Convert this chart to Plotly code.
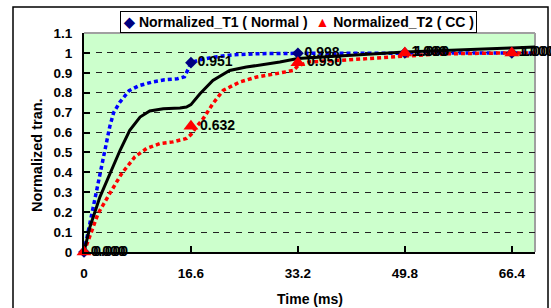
import plotly.graph_objects as go

# Marker series (sample points)
time_points = [0, 16.6, 33.2, 49.8, 66.4]
t1_values = [0.000, 0.951, 0.998, 1.000, 1.000]
t2_values = [0.000, 0.632, 0.950, 1.000, 1.000]
tick_labels = ["0", "16.6", "33.2", "49.8", "66.4"]
y_ticks = [0, 0.1, 0.2, 0.3, 0.4, 0.5, 0.6, 0.7, 0.8, 0.9, 1.0, 1.1]
y_tick_labels = ["0", "0.1", "0.2", "0.3", "0.4", "0.5", "0.6", "0.7", "0.8", "0.9", "1", "1.1"]

# Continuous traces
blue_t = [0, 1.0, 2.0, 3.0, 4.0, 4.6, 5.5, 7.0, 8.5, 10.5, 12.5, 14.5, 15.6, 16.2, 16.6, 18.0, 20.0, 23.0, 27.0, 33.2, 40.0, 49.8, 58.0, 66.4, 70.0]
blue_v = [0, 0.16, 0.32, 0.48, 0.63, 0.70, 0.75, 0.81, 0.835, 0.853, 0.865, 0.87, 0.88, 0.92, 0.951, 0.965, 0.978, 0.99, 0.996, 0.998, 0.999, 1.0, 1.0, 1.0, 1.0]

black_t = [0, 0.93, 2.48, 4.03, 5.6, 7.1, 8.7, 10.2, 12.3, 14.9, 15.9, 16.6, 18.0, 20.0, 22.6, 25.2, 30.4, 33.2, 49.8, 66.4, 70.0]
black_v = [0, 0.127, 0.277, 0.394, 0.511, 0.611, 0.678, 0.708, 0.72, 0.723, 0.728, 0.74, 0.795, 0.862, 0.912, 0.929, 0.954, 0.972, 1.005, 1.025, 1.03]

red_t = [0, 1.0, 2.2, 4.0, 5.85, 7.9, 9.7, 11.8, 13.8, 15.9, 16.6, 17.5, 18.5, 20.0, 21.6, 24.2, 26.8, 29.9, 32.5, 33.2, 35.0, 41.0, 49.8, 55.0, 66.4, 70.0]
red_v = [0, 0.09, 0.194, 0.294, 0.394, 0.478, 0.52, 0.545, 0.553, 0.57, 0.59, 0.63, 0.67, 0.745, 0.812, 0.854, 0.879, 0.896, 0.912, 0.935, 0.955, 0.965, 0.985, 0.995, 1.0, 1.0]

series_names = ["Normalized_T1 ( Normal )", "Normalized_T2 ( CC )"]

FONT = "Liberation Sans, Arial, sans-serif"
BOLD = dict(family=FONT, color="#000000", weight="bold")

fig = go.Figure()

fig.add_trace(go.Scatter(x=blue_t, y=blue_v, mode="lines", showlegend=False,
                         line=dict(color="#0000FF", width=3.5, dash="4px,3px"), hoverinfo="skip"))
fig.add_trace(go.Scatter(x=red_t, y=red_v, mode="lines", showlegend=False,
                         line=dict(color="#FF0000", width=3.5, dash="4px,3px"), hoverinfo="skip"))
fig.add_trace(go.Scatter(x=black_t, y=black_v, mode="lines", showlegend=False,
                         line=dict(color="#000000", width=3), hoverinfo="skip"))

fig.add_trace(go.Scatter(x=time_points, y=t1_values, mode="markers+text",
                         name=series_names[0], showlegend=False,
                         marker=dict(symbol="diamond", size=9, color="#000080"),
                         texttemplate="%{y:.3f}", textposition="middle right",
                         textfont=dict(size=14, **BOLD), cliponaxis=False))
fig.add_trace(go.Scatter(x=time_points, y=t2_values, mode="markers+text",
                         name=series_names[1], showlegend=False,
                         marker=dict(symbol="triangle-up", size=13, color="#FF0000"),
                         texttemplate="%{y:.3f}", textposition="middle right",
                         textfont=dict(size=14, **BOLD), cliponaxis=False))

L, R, T, B = 84, 16, 33, 56
W, H = 551, 308
pw = W - L - R
ph = H - T - B

def px_x(p):
    return (p - L) / pw

def px_y(p):
    return (H - B - p) / ph

fig.update_layout(
    width=W, height=H,
    margin=dict(l=L, r=R, t=T, b=B, pad=0),
    paper_bgcolor="#FFFFFF",
    plot_bgcolor="#CCFFCC",
    font=dict(family=FONT, size=12, color="#000000"),
    showlegend=False,
    xaxis=dict(range=[0, 70], tickvals=time_points, ticktext=tick_labels,
               showgrid=False, zeroline=False, showline=True, linecolor="#000000", linewidth=2,
               ticks="inside", ticklen=6, tickwidth=2, tickcolor="#000000",
               tickfont=dict(size=13.5, **BOLD), ticklabelstandoff=8,
               automargin=False),
    yaxis=dict(range=[0, 1.1], tickvals=y_ticks, ticktext=y_tick_labels,
               showgrid=True, gridcolor="#222222", gridwidth=1, griddash="6px,5.7px",
               zeroline=False, showline=True, linecolor="#000000", linewidth=2,
               ticks="inside", ticklen=6, tickwidth=2, tickcolor="#000000",
               tickfont=dict(size=13.5, **BOLD), ticklabelstandoff=7,
               automargin=False),
)

# axis titles
fig.add_annotation(text="Time (ms)", xref="paper", yref="paper", x=px_x(310), y=px_y(299),
                   xanchor="center", yanchor="middle", showarrow=False,
                   font=dict(size=14, **BOLD))
fig.add_annotation(text="Normalized tran.", xref="paper", yref="paper", x=px_x(37), y=px_y(155),
                   xanchor="center", yanchor="middle", showarrow=False, textangle=-90,
                   font=dict(size=14.5, **BOLD))

# legend box (drawn as annotation with coloured symbols)
legend_text = ('<span style="color:#000080">◆</span> ' + series_names[0] +
               '  <span style="color:#FF0000">▲</span> ' + series_names[1])
fig.add_annotation(text=legend_text, xref="paper", yref="paper", x=px_x(298), y=px_y(22),
                   xanchor="center", yanchor="middle", showarrow=False,
                   bgcolor="#FFFFFF", bordercolor="#000000", borderwidth=1, borderpad=2,
                   font=dict(size=14, **BOLD))

# plot area light border (top/right)
fig.add_shape(type="line", xref="paper", yref="paper", x0=0, x1=1, y0=1, y1=1,
              line=dict(color="#A0A0A0", width=2), layer="below")
fig.add_shape(type="line", xref="paper", yref="paper", x0=1, x1=1, y0=0, y1=1,
              line=dict(color="#A0A0A0", width=2), layer="below")
# chart outer frame
fig.add_shape(type="rect", xref="paper", yref="paper",
              x0=px_x(13), x1=px_x(548), y0=px_y(320), y1=px_y(7),
              line=dict(color="#000000", width=1.5), fillcolor="rgba(0,0,0,0)")

fig.write_html("out.html",
               config={"displayModeBar": False},
               post_script="document.body.style.margin='0px';document.body.style.padding='0px';")
